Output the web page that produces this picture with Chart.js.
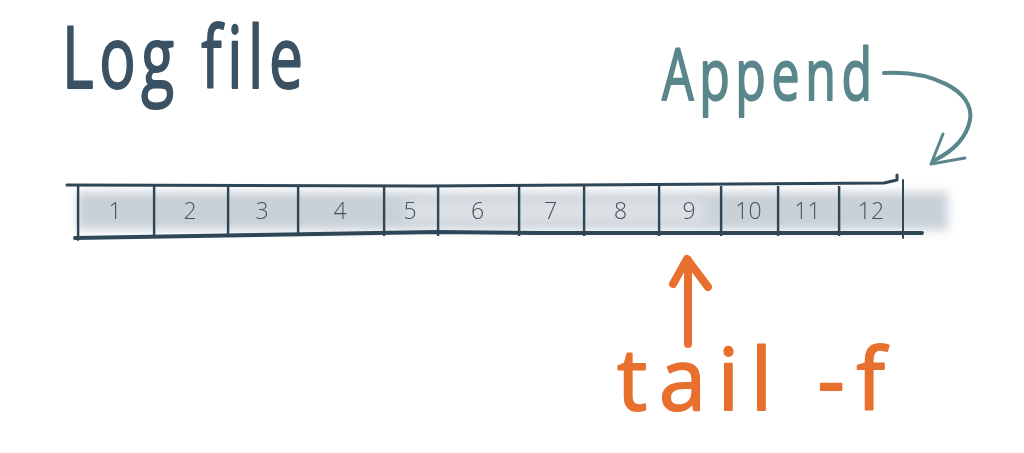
<!DOCTYPE html>
<html lang="en">
<head>
<meta charset="utf-8">
<title>Log file</title>
<script src="https://cdnjs.cloudflare.com/ajax/libs/Chart.js/4.4.1/chart.umd.min.js"></script>
<style>
  html, body { margin: 0; padding: 0; background: #ffffff; }
  #wrap { position: relative; width: 1024px; height: 453px; }
</style>
</head>
<body>
<div id="wrap"><canvas id="logChart"></canvas></div>
<script>
// log entries, left to right, and how wide each one is drawn
const ENTRY_LABELS = ["1", "2", "3", "4", "5", "6", "7", "8", "9", "10", "11", "12"];
const ENTRY_SIZES = [76, 74, 70, 86, 54, 81, 65, 75, 62, 57, 61, 66];
const TAIL_ENTRY = "9";

const INK = "#2f4657";
const TEAL = "#5a878b";
const ORANGE = "#e8702e";

function handText(ctx, text, left, baseline, size, width, color, spacing) {
  ctx.save();
  ctx.font = `400 ${size}px "Open Sans", sans-serif`;
  ctx.letterSpacing = `${spacing}px`;
  ctx.textBaseline = "alphabetic";
  ctx.textAlign = "left";
  const measured = ctx.measureText(text).width - spacing;
  ctx.translate(left, baseline);
  ctx.scale(width / measured, 1);
  ctx.fillStyle = color;
  ctx.strokeStyle = color;
  ctx.lineWidth = 2;
  ctx.lineJoin = "round";
  ctx.fillText(text, 0, 0);
  ctx.strokeText(text, 0, 0);
  ctx.restore();
}

function strokeLine(ctx, points, color, width) {
  ctx.save();
  ctx.strokeStyle = color;
  ctx.lineWidth = width;
  ctx.lineCap = "round";
  ctx.lineJoin = "round";
  ctx.beginPath();
  ctx.moveTo(points[0][0], points[0][1]);
  points.slice(1).forEach(([x, y]) => ctx.lineTo(x, y));
  ctx.stroke();
  ctx.restore();
}

const sketchPlugin = {
  id: "sketch",
  beforeDatasetsDraw(chart) {
    const ctx = chart.ctx;
    const first = chart.getDatasetMeta(0).data[0];
    const last = chart.getDatasetMeta(ENTRY_SIZES.length - 1).data[0];
    const top = first.y - first.height / 2;
    const bottom = first.y + first.height / 2;

    // grey smudge behind the cells
    ctx.save();
    ctx.filter = "blur(5px)";
    ctx.fillStyle = "rgba(192, 201, 209, 0.85)";
    ctx.fillRect(first.base, top + 6, last.x - first.base + 44, bottom - top - 12);
    ctx.filter = "blur(8px)";
    ctx.fillStyle = "rgba(240, 242, 244, 0.55)";
    ctx.fillRect(first.base + 330, top + 14, 300, bottom - top - 28);
    ctx.restore();
  },
  afterDatasetsDraw(chart) {
    const ctx = chart.ctx;
    const first = chart.getDatasetMeta(0).data[0];
    const last = chart.getDatasetMeta(ENTRY_SIZES.length - 1).data[0];
    const top = first.y - first.height / 2;
    const bottom = first.y + first.height / 2;

    // top and bottom edges of the file
    strokeLine(ctx, [[first.base - 10, top - 1], [first.base + 350, top], [last.x - 20, top - 3], [last.x - 7, top - 6], [last.x - 7, top - 11]], INK, 3);
    strokeLine(ctx, [[first.base - 2, bottom + 2], [first.base + 360, bottom - 4], [first.base + 460, bottom - 3], [last.x + 18, bottom - 3]], INK, 4);
    strokeLine(ctx, [[last.x - 1, top - 6], [last.x - 1, bottom + 2]], INK, 2);
    strokeLine(ctx, [[first.base + 1, top + 4], [first.base + 1, bottom + 4]], INK, 2);

    // entry numbers
    ctx.save();
    ctx.font = '300 23px "Open Sans", sans-serif';
    ctx.fillStyle = "#46525d";
    ctx.textAlign = "center";
    ctx.textBaseline = "middle";
    chart.data.datasets.forEach((dataset, index) => {
      const bar = chart.getDatasetMeta(index).data[0];
      ctx.fillText(dataset.label, (bar.x + bar.base) / 2, bar.y + 1);
    });
    ctx.restore();
  },
  afterDraw(chart) {
    const ctx = chart.ctx;
    const tailIndex = ENTRY_LABELS.indexOf(TAIL_ENTRY);
    const tailBar = chart.getDatasetMeta(tailIndex).data[0];
    const lastBar = chart.getDatasetMeta(ENTRY_SIZES.length - 1).data[0];
    const arrowX = (tailBar.x + tailBar.base) / 2 - 1;

    handText(ctx, "Log file", 62, 88, 86, 241, "#3a5263", 8);
    handText(ctx, "Append", 662, 100, 72, 210, TEAL, 8);
    handText(ctx, "tail -f", 617, 410, 86, 268, ORANGE, 12);

    // tail -f pointer
    strokeLine(ctx, [[arrowX, 344], [arrowX, 260]], ORANGE, 8);
    strokeLine(ctx, [[arrowX - 15, 284], [arrowX - 1, 259], [arrowX + 20, 287]], ORANGE, 8);

    // append arrow
    const tipX = lastBar.x + 27;
    ctx.save();
    ctx.strokeStyle = TEAL;
    ctx.lineWidth = 4;
    ctx.lineCap = "round";
    ctx.beginPath();
    ctx.moveTo(884, 73);
    ctx.bezierCurveTo(930, 70, 975, 90, 970, 120);
    ctx.quadraticCurveTo(965, 145, tipX + 4, 160);
    ctx.stroke();
    ctx.restore();
    strokeLine(ctx, [[tipX + 12, 134], [tipX, 164], [tipX + 34, 158]], TEAL, 3);
  }
};

function buildDatasets() {
  return ENTRY_SIZES.map((size, index) => ({
    label: ENTRY_LABELS[index],
    data: [size],
    backgroundColor: "rgba(0, 0, 0, 0)",
    borderColor: INK,
    borderWidth: { left: 2, right: 0, top: 0, bottom: 0 },
    borderSkipped: false,
    barThickness: 50
  }));
}

function renderChart() {
  const canvas = document.getElementById("logChart");

  new Chart(canvas, {
    type: "bar",
    data: {
      labels: ["Log file"],
      datasets: buildDatasets()
    },
    options: {
      indexAxis: "y",
      responsive: true,
      maintainAspectRatio: false,
      animation: false,
      layout: { padding: { left: 0, right: 0, top: 0, bottom: 31 } },
      scales: {
        x: { type: "linear", stacked: true, min: -77, max: 947, display: false },
        y: { stacked: true, display: false }
      },
      plugins: {
        legend: { display: false },
        tooltip: { enabled: false }
      }
    },
    plugins: [sketchPlugin]
  });
}

document.addEventListener("DOMContentLoaded", renderChart);
</script>
</body>
</html>
